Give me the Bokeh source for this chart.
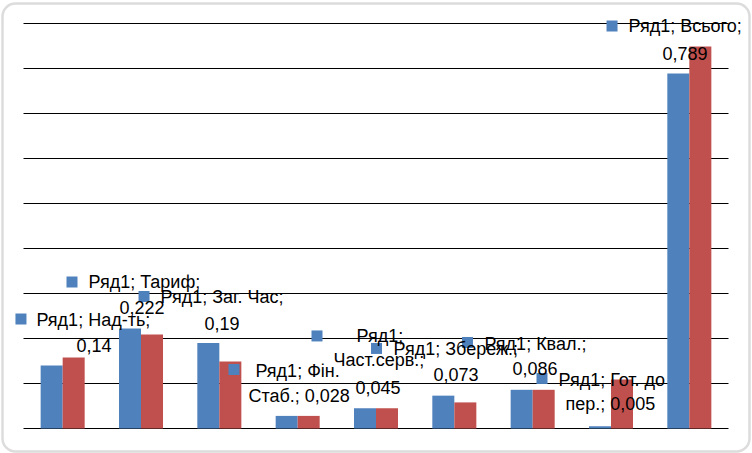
from bokeh.plotting import figure
from bokeh.models import Range1d, ColumnDataSource, BoxAnnotation
from bokeh.core.properties import value
from bokeh.embed import file_html
from bokeh.resources import INLINE

# ---- data ----
categories = ["Над-ть", "Тариф", "Заг. Час", "Фін. Стаб.", "Част.серв.",
              "Збереж.", "Квал.", "Гот. до пер.", "Всього"]
series1 = [0.14, 0.222, 0.19, 0.028, 0.045, 0.073, 0.086, 0.005, 0.789]
series2 = [0.158, 0.209, 0.149, 0.028, 0.045, 0.058, 0.086, 0.109, 0.849]
series_name = "Ряд1"
y_ticks = [0.0, 0.1, 0.2, 0.3, 0.4, 0.5, 0.6, 0.7, 0.8, 0.9]

# ---- label layout (words per line, pixel offsets from top of blue bar) ----
line_words = [[2, 1], [2, 1], [3, 1], [2, 2], [1, 1, 1], [2, 1], [2, 1], [3, 2], [2, 1]]
marker_off = [(-30.7, -46.5), (-58, -46.6), (-64.3, -46.5), (-52.7, -46.4), (-48, -72.3),
              (-66.8, -47.2), (-54.2, -47.3), (-58, -47.8), (-66.3, -47.5)]
line_off = [
    [(-15.2, -46), (24.8, -20)],
    [(-41.5, -47), (-10.5, -21)],
    [(-47.8, -46.5), (-3.8, -19.5)],
    [(-31.2, -45.4), (-38.2, -20.4)],
    [(-8.5, -71.8), (-31.5, -47.8), (-9.5, -20.8)],
    [(-49.8, -46.2), (-9.8, -21.2)],
    [(-37.2, -46.3), (-9.2, -21.3)],
    [(-41.5, -45.8), (-34.5, -21.8)],
    [(-49.8, -47), (-15.8, -20)],
]

W, H = 752, 453
PL, PR, PT, PB = 23, 24, 23, 25          # plot-area margins inside the chart box
n = len(categories)
px_per_cat = (W - PL - PR) / n
px_per_unit = (H - PT - PB) / (y_ticks[-1] - y_ticks[0])
x0, x1 = -0.5, n - 0.5
bar_w = 0.281
blue, red = "#4F81BD", "#C0504D"

p = figure(width=W, height=H, output_backend="svg", toolbar_location=None,
           x_range=Range1d(x0 - PL / px_per_cat, x1 + PR / px_per_cat),
           y_range=Range1d(y_ticks[0] - PB / px_per_unit, y_ticks[-1] + PT / px_per_unit),
           min_border=0)
p.outline_line_color = None
p.background_fill_color = "white"
p.border_fill_color = "white"
p.xaxis.visible = False
p.yaxis.visible = False
p.grid.visible = False

# horizontal gridlines
p.segment(x0=[x0] * len(y_ticks), x1=[x1] * len(y_ticks), y0=y_ticks, y1=y_ticks,
          line_color="black", line_width=1)

xs = list(range(n))
p.vbar(x=[x - bar_w / 2 for x in xs], top=series1, width=bar_w, fill_color=blue, line_color=None)
p.vbar(x=[x + bar_w / 2 for x in xs], top=series2, width=bar_w, fill_color=red, line_color=None)

# labels
mx, my = [], []
tx, ty, tt, tox, toy = [], [], [], [], []
for i, (cat, v) in enumerate(zip(categories, series1)):
    bx = i - bar_w / 2
    vs = ("%g" % v).replace(".", ",")
    tokens = f"{series_name}; {cat}; {vs}".split(" ")
    k = 0
    for j, cnt in enumerate(line_words[i]):
        tt.append(" ".join(tokens[k:k + cnt]))
        k += cnt
        tx.append(bx)
        ty.append(v)
        tox.append(line_off[i][j][0])
        toy.append(line_off[i][j][1])
    mx.append(bx + marker_off[i][0] / px_per_cat)
    my.append(v - marker_off[i][1] / px_per_unit)

p.scatter(x=mx, y=my, marker="square", size=11, fill_color=blue, line_color=None)
src = ColumnDataSource(dict(x=tx, y=ty, text=tt, xo=tox, yo=toy))
p.text(x="x", y="y", text="text", x_offset="xo", y_offset="yo", source=src,
       text_font=value("Liberation Sans"), text_font_size="18px",
       text_baseline="middle", text_align="left", text_color="black")

border = BoxAnnotation(left=2, right=W - 3, top=2, bottom=H - 3,
                       left_units="screen", right_units="screen",
                       top_units="screen", bottom_units="screen",
                       fill_color=None, fill_alpha=0, line_color="#8c8c8c", line_width=2.5,
                       border_radius=13, level="overlay")
p.add_layout(border)

open("out.html", "w").write(file_html(p, INLINE))
